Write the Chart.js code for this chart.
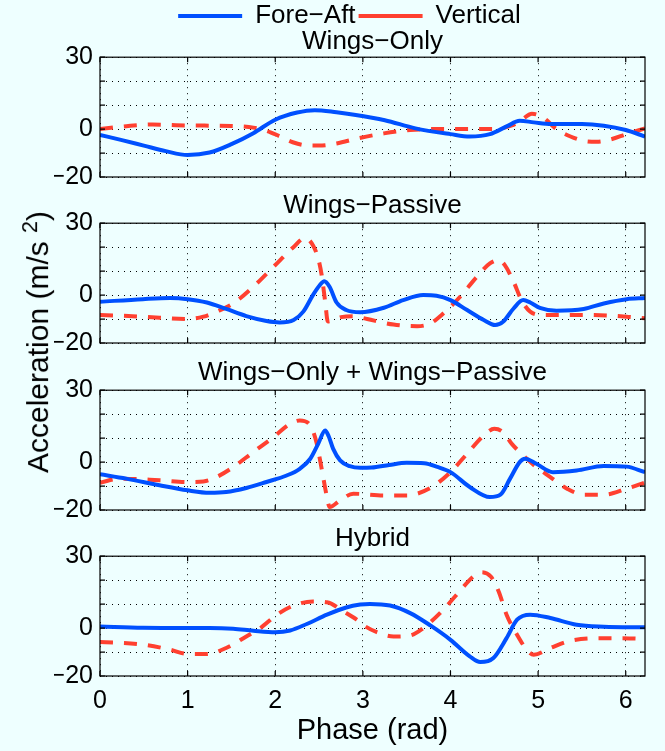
<!DOCTYPE html>
<html><head><meta charset="utf-8">
<script src="https://cdn.jsdelivr.net/npm/chart.js@4/dist/chart.umd.min.js"></script>
<style>
html,body{margin:0;padding:0;background:#EEFFFF;}
body{width:665px;height:751px;position:relative;overflow:hidden;font-family:'Liberation Sans',Arial,sans-serif;}
.p{position:absolute;left:0;}
#ylab{position:absolute;left:36px;top:342px;transform:translate(-50%,-50%) rotate(-90deg);white-space:nowrap;font-size:30px;line-height:1;color:#000;}
#ylab sup{font-size:72%;vertical-align:0.5em;}
</style></head><body>
<canvas class="p" id="c1" width="665" height="196" style="top:0px"></canvas>
<canvas class="p" id="c2" width="665" height="172" style="top:190px"></canvas>
<canvas class="p" id="c3" width="665" height="172" style="top:357px"></canvas>
<canvas class="p" id="c4" width="665" height="228" style="top:523px"></canvas>
<div id="ylab">Acceleration (m/s <sup>2</sup>)</div>
<script>
// ---- data ----
const panelTitles = ["Wings\u2212Only", "Wings\u2212Passive", "Wings\u2212Only + Wings\u2212Passive", "Hybrid"];
const seriesNames = ["Fore\u2212Aft", "Vertical"];
const xTickValues = [0, 1, 2, 3, 4, 5, 6];
const yTickLabels = {"-20": "\u221220", "0": "0", "30": "30"};
const xAxisLabel = "Phase (rad)";

// Wings-Only
const woFaX = [0, 0.25, 0.5, 0.75, 1.0, 1.25, 1.5, 1.75, 2.0, 2.25, 2.45, 2.7, 2.9, 3.25, 3.6, 4.0, 4.22, 4.45, 4.64, 4.79, 4.95, 5.15, 5.5, 5.75, 6.0, 6.22];
const woFaY = [-2.4, -4.6, -6.9, -9.2, -10.8, -9.8, -6.3, -1.7, 3.9, 6.9, 7.9, 7.0, 6.0, 3.7, 0.3, -2.1, -3.1, -2.1, 1.1, 3.5, 2.8, 2.1, 2.1, 1.4, -0.4, -3.1];
const woVtX = [0, 0.3, 0.6, 1.0, 1.5, 1.75, 1.9, 2.05, 2.2, 2.35, 2.5, 2.7, 2.95, 3.24, 3.54, 3.8, 4.2, 4.5, 4.7, 4.8, 4.93, 5.05, 5.21, 5.37, 5.52, 5.67, 5.82, 6.01, 6.22];
const woVtY = [0, 1.2, 1.9, 1.5, 1.3, 0.6, -0.7, -3.0, -5.5, -6.8, -6.9, -6.0, -3.8, -1.8, -0.4, 0, 0, 0, 1.5, 3.5, 6.4, 5.0, 0, -3.1, -4.9, -5.3, -4.4, -2.1, 0.3];

// Wings-Passive
const wpFaX = [0, 0.49, 0.8, 1.0, 1.22, 1.44, 1.67, 1.9, 2.05, 2.21, 2.32, 2.43, 2.51, 2.56, 2.62, 2.7, 2.81, 2.97, 3.24, 3.46, 3.69, 3.84, 4.0, 4.19, 4.38, 4.51, 4.6, 4.72, 4.83, 4.91, 5.02, 5.21, 5.52, 5.75, 6.01, 6.22];
const wpFaY = [-2.8, -1.7, -1.25, -1.7, -3.1, -5.8, -8.75, -10.8, -11.4, -10.4, -6.9, 0, 4.2, 5.8, 3.5, -3.1, -6.25, -7.2, -5.3, -2.1, 0, -0.3, -2.1, -6.25, -10.4, -12.5, -11.1, -5.6, -2.1, -3.1, -5.3, -6.5, -5.8, -3.5, -1.7, -1.25];
const wpVtX = [0, 0.49, 1.0, 1.18, 1.33, 1.52, 1.75, 1.98, 2.21, 2.34, 2.43, 2.49, 2.53, 2.57, 2.6, 2.75, 2.9, 3.05, 3.35, 3.62, 3.77, 3.92, 4.11, 4.3, 4.45, 4.55, 4.62, 4.72, 4.81, 4.91, 5.06, 5.52, 6.01, 6.22];
const wpVtY = [-8.3, -9.0, -10.0, -9.0, -6.9, -3.5, 3.5, 11.8, 20.1, 23.9, 20.8, 15.3, 8.3, -2.8, -11.0, -9.2, -8.8, -10.0, -12.3, -13.0, -11.8, -7.6, -0.7, 7.6, 13.2, 14.6, 12.5, 5.6, -2.1, -6.9, -8.3, -8.3, -9.0, -9.7];

// Wings-Only + Wings-Passive
const wcFaX = [0, 0.3, 0.68, 1.0, 1.25, 1.44, 1.67, 1.9, 2.13, 2.28, 2.4, 2.49, 2.57, 2.61, 2.66, 2.74, 2.85, 2.97, 3.1, 3.3, 3.5, 3.7, 3.85, 4.0, 4.22, 4.45, 4.57, 4.68, 4.79, 4.85, 4.98, 5.17, 5.44, 5.75, 6.01, 6.22];
const wcFaY = [-5.1, -6.9, -9.7, -11.8, -12.8, -12.5, -10.8, -8.3, -5.6, -2.8, 1.4, 7.6, 13.2, 10.8, 5.6, 0.7, -1.7, -2.4, -2.3, -1.2, -0.3, -0.5, -2.0, -4.2, -10.4, -14.6, -13.6, -6.9, 0, 1.4, -0.7, -4.2, -3.5, -1.6, -1.9, -4.2];
const wcVtX = [0, 0.23, 0.68, 1.0, 1.18, 1.33, 1.52, 1.75, 1.98, 2.17, 2.28, 2.4, 2.47, 2.53, 2.59, 2.62, 2.74, 2.89, 3.24, 3.5, 3.77, 4.0, 4.19, 4.38, 4.5, 4.6, 4.7, 4.83, 4.98, 5.14, 5.33, 5.52, 5.75, 6.01, 6.22];
const wcVtY = [-8.6, -6.9, -7.6, -8.3, -8.1, -6.25, -2.1, 4.2, 10.4, 16.0, 17.4, 15.3, 8.3, -2.8, -14.6, -18.75, -16.0, -13.2, -13.9, -13.9, -10.8, -4.2, 3.5, 11.1, 13.9, 12.5, 7.6, 2.8, -2.1, -6.25, -11.1, -13.6, -13.6, -11.1, -8.6];

// Hybrid
const hyFaX = [0, 0.49, 1.0, 1.25, 1.52, 1.75, 2.0, 2.17, 2.36, 2.59, 2.81, 2.97, 3.08, 3.31, 3.54, 3.77, 4.0, 4.22, 4.34, 4.49, 4.64, 4.76, 4.91, 5.14, 5.44, 5.75, 6.22];
const hyFaY = [0.7, 0.1, 0, 0, -0.3, -1.1, -1.7, -1.0, 1.7, 5.6, 8.6, 9.8, 10.1, 9.4, 6.25, 1.1, -4.9, -11.8, -14.2, -12.5, -4.2, 3.5, 5.6, 4.2, 1.4, 0.6, 0.3];
const hyVtX = [0, 0.49, 0.8, 1.0, 1.22, 1.44, 1.67, 1.83, 2.02, 2.21, 2.43, 2.59, 2.78, 2.93, 3.01, 3.16, 3.35, 3.54, 3.69, 3.88, 4.07, 4.26, 4.35, 4.46, 4.55, 4.64, 4.76, 4.87, 4.95, 5.14, 5.37, 5.75, 6.13, 6.22];
const hyVtY = [-5.8, -6.9, -9.0, -10.8, -10.8, -8.3, -3.5, 0, 5.6, 9.4, 11.1, 10.8, 6.9, 3.5, 1.1, -1.7, -3.5, -3.1, 0, 6.25, 13.9, 21.5, 23.3, 21.5, 15.3, 5.6, -2.8, -9.0, -11.1, -8.3, -5.3, -4.2, -4.4, -4.6];

// ---- styling ----
const BLUE = '#0050FF';
const RED = '#FF4030';
const FONT = "'Liberation Sans', Arial, Helvetica, sans-serif";

const pts = (xs, ys) => xs.map((x, i) => ({x: x, y: ys[i]}));

const framePlugin = {
  id: 'frame',
  afterDatasetsDraw(chart) {
    const {ctx, chartArea: a, scales: {x, y}} = chart;
    ctx.save();
    ctx.strokeStyle = '#000';
    ctx.lineWidth = 1.2;
    ctx.setLineDash([]);
    ctx.strokeRect(a.left, a.top, a.right - a.left, a.bottom - a.top);
    const tl = 5;
    ctx.beginPath();
    x.ticks.forEach(t => {
      const px = x.getPixelForValue(t.value);
      ctx.moveTo(px, a.bottom); ctx.lineTo(px, a.bottom - tl);
      ctx.moveTo(px, a.top); ctx.lineTo(px, a.top + tl);
    });
    y.ticks.forEach(t => {
      const py = y.getPixelForValue(t.value);
      ctx.moveTo(a.left, py); ctx.lineTo(a.left + tl, py);
      ctx.moveTo(a.right, py); ctx.lineTo(a.right - tl, py);
    });
    ctx.stroke();
    ctx.restore();
  }
};

function makePanel(id, idx, faX, faY, vtX, vtY, cfg) {
  return new Chart(document.getElementById(id), {
    type: 'line',
    data: {
      datasets: [
        {label: seriesNames[0], data: pts(faX, faY), borderColor: BLUE, backgroundColor: BLUE,
         borderWidth: 4, pointRadius: 0, cubicInterpolationMode: 'monotone', fill: false, pointStyle: 'line'},
        {label: seriesNames[1], data: pts(vtX, vtY), borderColor: RED, backgroundColor: RED,
         borderWidth: 4, borderDash: [13, 11], pointRadius: 0, cubicInterpolationMode: 'monotone', fill: false, pointStyle: 'line'}
      ]
    },
    options: {
      responsive: false,
      animation: false,
      events: [],
      layout: {autoPadding: false, padding: {left: 54, right: 20, top: 0, bottom: cfg.padBottom}},
      plugins: {
        tooltip: {enabled: false},
        legend: {
          display: !!cfg.legend,
          position: 'top',
          weight: 3000,
          labels: {
            usePointStyle: true, pointStyle: 'line', pointStyleWidth: 64,
            padding: 3, color: '#000', font: {family: FONT, size: 26}
          }
        },
        title: {
          display: true, text: panelTitles[idx], fullSize: false, color: '#000',
          font: {family: FONT, size: 26, weight: 'normal'},
          padding: cfg.titlePad
        }
      },
      scales: {
        x: {
          type: 'linear', min: 0, max: 6.22,
          ticks: {stepSize: 1, includeBounds: false, display: !!cfg.showX, color: '#000',
                  font: {family: FONT, size: 25}, padding: 10, maxRotation: 0, autoSkip: false},
          grid: {color: '#000', lineWidth: 1, drawTicks: false},
          border: {display: false, dash: [1, 5]},
          title: {display: !!cfg.showX, text: xAxisLabel, color: '#000',
                  font: {family: FONT, size: 29}, padding: {top: 0, bottom: 3}},
          afterFit: s => { s.height = cfg.xHeight; s.paddingLeft = 0; s.paddingRight = 0; }
        },
        y: {
          min: -20, max: 30,
          ticks: {stepSize: 10, autoSkip: false, color: '#000', font: {family: FONT, size: 25}, padding: 7,
                  callback: v => (yTickLabels[String(v)] !== undefined ? yTickLabels[String(v)] : '')},
          grid: {color: '#000', lineWidth: 1, drawTicks: false},
          border: {display: false, dash: [1, 5]},
          afterFit: s => { s.width = 46; s.paddingTop = 0; s.paddingBottom = 0; }
        }
      }
    },
    plugins: [framePlugin]
  });
}

makePanel('c1', 0, woFaX, woFaY, woVtX, woVtY, {legend: true, padBottom: 19, xHeight: 0, titlePad: {top: -13, bottom: 0}});
makePanel('c2', 1, wpFaX, wpFaY, wpVtX, wpVtY, {padBottom: 19, xHeight: 0, titlePad: {top: 0, bottom: 2}});
makePanel('c3', 2, wcFaX, wcFaY, wcVtX, wcVtY, {padBottom: 19, xHeight: 0, titlePad: {top: 0, bottom: 2}});
makePanel('c4', 3, hyFaX, hyFaY, hyVtX, hyVtY, {showX: true, padBottom: 0, xHeight: 75, titlePad: {top: 0, bottom: 2}});
</script>
</body></html>
